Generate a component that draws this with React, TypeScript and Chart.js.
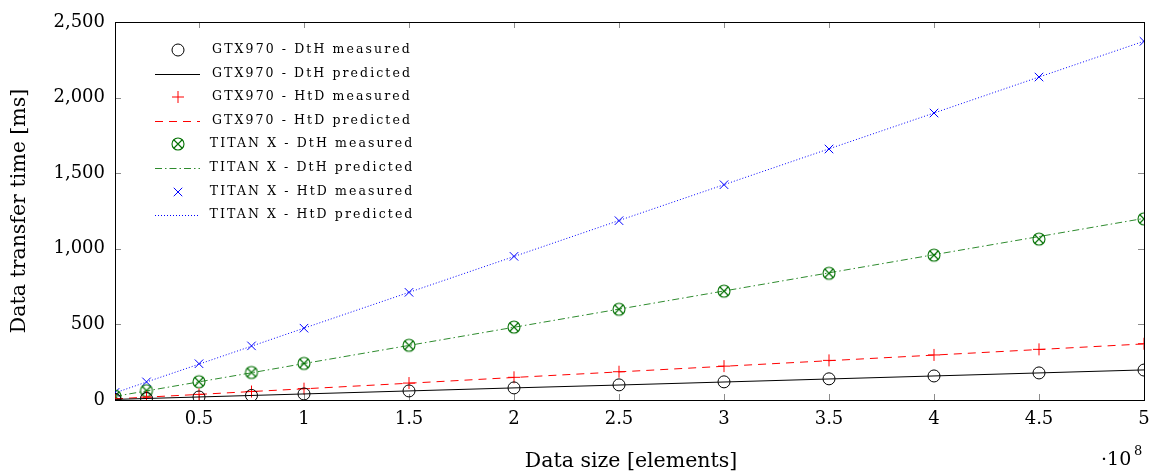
import React, { useEffect, useRef } from "react";
import { Chart, registerables } from "chart.js";

Chart.register(...registerables);

const xValues = [0.1, 0.25, 0.5, 0.75, 1, 1.5, 2, 2.5, 3, 3.5, 4, 4.5, 5];

const gtxDtHMeasured = [4, 10, 20, 30, 40, 60, 80, 100, 120, 140, 159, 179, 198];
const gtxDtHPredicted = [4, 10, 20, 30, 40, 60, 80, 99, 119, 139, 159, 179, 199];
const gtxHtDMeasured = [7, 19, 37, 56, 75, 112, 150, 187, 224, 262, 298, 335, 372];
const gtxHtDPredicted = [7, 19, 37, 56, 74, 111, 149, 186, 223, 260, 297, 334, 371];
const titanDtHMeasured = [25, 62, 121, 182, 242, 362, 482, 600, 720, 838, 958, 1064, 1198];
const titanDtHPredicted = [24, 60, 120, 180, 241, 361, 481, 601, 721, 841, 961, 1081, 1201];
const titanHtDMeasured = [50, 120, 240, 358, 475, 712, 950, 1186, 1424, 1660, 1898, 2136, 2372];
const titanHtDPredicted = [47, 119, 237, 356, 475, 712, 949, 1187, 1424, 1661, 1898, 2136, 2373];

const xTicks = [0.5, 1, 1.5, 2, 2.5, 3, 3.5, 4, 4.5, 5];

const legendLabels = [
  "GTX970 - DtH measured",
  "GTX970 - DtH predicted",
  "GTX970 - HtD measured",
  "GTX970 - HtD predicted",
  "TITAN X - DtH measured",
  "TITAN X - DtH predicted",
  "TITAN X - HtD measured",
  "TITAN X - HtD predicted",
];

const SERIF = "'DejaVu Serif', 'Liberation Serif', serif";

function pts(vals: number[]) {
  return xValues.map((x, i) => ({ x, y: vals[i] }));
}

function makeOTimes(): HTMLCanvasElement {
  const c = document.createElement("canvas");
  c.width = 16;
  c.height = 16;
  const g = c.getContext("2d")!;
  g.strokeStyle = "#007000";
  g.lineWidth = 1.1;
  g.beginPath();
  g.arc(8, 8, 6, 0, Math.PI * 2);
  g.stroke();
  const d = 6 / Math.SQRT2;
  g.beginPath();
  g.moveTo(8 - d, 8 - d);
  g.lineTo(8 + d, 8 + d);
  g.moveTo(8 + d, 8 - d);
  g.lineTo(8 - d, 8 + d);
  g.stroke();
  return c;
}

function drawMarker(ctx: CanvasRenderingContext2D, ds: any, x: number, y: number) {
  const style = ds.pointStyle;
  const r = ds.pointRadius;
  ctx.save();
  ctx.strokeStyle = ds.pointBorderColor || ds.borderColor;
  ctx.lineWidth = ds.pointBorderWidth || 1;
  ctx.beginPath();
  if (style instanceof HTMLCanvasElement) {
    ctx.drawImage(style, x - style.width / 2, y - style.height / 2);
  } else if (style === "circle") {
    ctx.arc(x, y, r, 0, Math.PI * 2);
    ctx.stroke();
  } else if (style === "cross") {
    ctx.moveTo(x - r, y);
    ctx.lineTo(x + r, y);
    ctx.moveTo(x, y - r);
    ctx.lineTo(x, y + r);
    ctx.stroke();
  } else if (style === "crossRot") {
    const d = r * Math.SQRT1_2;
    ctx.moveTo(x - d, y - d);
    ctx.lineTo(x + d, y + d);
    ctx.moveTo(x + d, y - d);
    ctx.lineTo(x - d, y + d);
    ctx.stroke();
  }
  ctx.restore();
}

const framePlugin = {
  id: "frame",
  beforeDatasetsDraw(chart: any) {
    const { ctx, chartArea } = chart;
    const { left, right, top, bottom } = chartArea;
    const xs = chart.scales.x;
    const ys = chart.scales.y;
    ctx.save();
    ctx.strokeStyle = "#8c8c8c";
    ctx.lineWidth = 1;
    ctx.beginPath();
    for (const t of xs.ticks) {
      const px = Math.round(xs.getPixelForValue(t.value)) + 0.5;
      ctx.moveTo(px, bottom);
      ctx.lineTo(px, bottom - 6);
      ctx.moveTo(px, top);
      ctx.lineTo(px, top + 6);
    }
    for (const t of ys.ticks) {
      const py = Math.round(ys.getPixelForValue(t.value)) + 0.5;
      ctx.moveTo(left, py);
      ctx.lineTo(left + 6, py);
      ctx.moveTo(right, py);
      ctx.lineTo(right - 6, py);
    }
    ctx.stroke();
    ctx.strokeStyle = "#000";
    ctx.lineWidth = 1;
    ctx.strokeRect(Math.round(left) + 0.5, Math.round(top) + 0.5, Math.round(right - left), Math.round(bottom - top));
    ctx.restore();
  },
  afterDraw(chart: any) {
    const { ctx } = chart;
    ctx.save();
    // axis titles
    ctx.fillStyle = "#000";
    ctx.font = `20.5px ${SERIF}`;
    ctx.textAlign = "center";
    ctx.textBaseline = "middle";
    ctx.fillText("Data size [elements]", 631, 462);
    ctx.save();
    ctx.translate(20, 211);
    ctx.rotate(-Math.PI / 2);
    ctx.fillText("Data transfer time [ms]", 0, 0);
    ctx.restore();
    // multiplier
    ctx.textAlign = "left";
    ctx.textBaseline = "alphabetic";
    ctx.font = `19px ${SERIF}`;
    ctx.fillText("\u00b710", 1101, 465);
    ctx.font = `13px ${SERIF}`;
    ctx.fillText("8", 1134, 455);

    // legend
    const rowY = [50, 74, 97, 121, 144, 168, 192, 215];
    ctx.font = `12.5px ${SERIF}`;
    (ctx as any).letterSpacing = "2.1px";
    ctx.textAlign = "center";
    ctx.textBaseline = "middle";
    chart.data.datasets.forEach((ds: any, i: number) => {
      const y = rowY[i];
      if (ds.showLine === false) {
        drawMarker(ctx, ds, 178, y);
      } else {
        ctx.save();
        ctx.strokeStyle = ds.borderColor;
        ctx.lineWidth = ds.borderWidth;
        ctx.setLineDash(ds.borderDash || []);
        ctx.beginPath();
        ctx.moveTo(155, y + 0.5);
        ctx.lineTo(200, y + 0.5);
        ctx.stroke();
        ctx.restore();
      }
      ctx.fillStyle = "#000";
      ctx.fillText(legendLabels[i], 312, y);
    });
    ctx.restore();
  },
};

export default function App() {
  const ref = useRef<HTMLCanvasElement | null>(null);
  useEffect(() => {
    if (!ref.current) return;
    const otimes = makeOTimes();
    const measured = (vals: number[], color: string, style: any, r: number, label: string) => ({
      label,
      data: pts(vals),
      showLine: false,
      borderColor: color,
      backgroundColor: "transparent",
      pointStyle: style,
      pointRadius: r,
      pointBorderColor: color,
      pointBackgroundColor: "transparent",
      pointBorderWidth: 1,
    });
    const predicted = (vals: number[], color: string, dash: number[], label: string) => ({
      label,
      data: pts(vals),
      showLine: true,
      borderColor: color,
      borderWidth: 1,
      borderDash: dash,
      pointRadius: 0,
      fill: false,
      tension: 0,
    });
    const chart = new Chart(ref.current, {
      type: "scatter",
      data: {
        datasets: [
          measured(gtxDtHMeasured, "#000000", "circle", 6, legendLabels[0]),
          predicted(gtxDtHPredicted, "#000000", [], legendLabels[1]),
          measured(gtxHtDMeasured, "#ff0000", "cross", 6, legendLabels[2]),
          predicted(gtxHtDPredicted, "#ff0000", [8, 6], legendLabels[3]),
          measured(titanDtHMeasured, "#007000", otimes, 6, legendLabels[4]),
          predicted(titanDtHPredicted, "#2e8b2e", [7, 3, 1.5, 3], legendLabels[5]),
          measured(titanHtDMeasured, "#0000ff", "crossRot", 6, legendLabels[6]),
          predicted(titanHtDPredicted, "#0000ff", [1, 2], legendLabels[7]),
        ] as any,
      },
      options: {
        responsive: false,
        animation: false,
        layout: { padding: { top: 22, right: 9, left: 0, bottom: 0 } },
        plugins: { legend: { display: false }, tooltip: { enabled: false } },
        scales: {
          x: {
            type: "linear",
            min: 0.1,
            max: 5,
            afterBuildTicks: (s: any) => {
              s.ticks = xTicks.map((v) => ({ value: v }));
            },
            afterFit: (s: any) => {
              s.height = 74;
              s.paddingRight = 0;
              s.paddingLeft = 0;
            },
            grid: { display: false, drawTicks: false },
            border: { display: false },
            ticks: {
              color: "#000",
              font: { family: SERIF, size: 18 },
              padding: 9,
              maxRotation: 0,
              autoSkip: false,
              callback: (v: any) => String(v),
            },
          },
          y: {
            type: "linear",
            min: 0,
            max: 2500,
            afterFit: (s: any) => {
              s.width = 115;
              s.paddingTop = 0;
              s.paddingBottom = 0;
            },
            grid: { display: false, drawTicks: false },
            border: { display: false },
            ticks: {
              stepSize: 500,
              color: "#000",
              font: { family: SERIF, size: 18 },
              padding: 10,
              callback: (v: any) => Number(v).toLocaleString("en-US"),
            },
          },
        },
      },
      plugins: [framePlugin],
    });
    return () => chart.destroy();
  }, []);
  return (
    <div style={{ position: "absolute", left: 0, top: 0, width: 1153, height: 474, background: "#fff" }}>
      <canvas ref={ref} width={1153} height={474} style={{ display: "block" }} />
    </div>
  );
}
